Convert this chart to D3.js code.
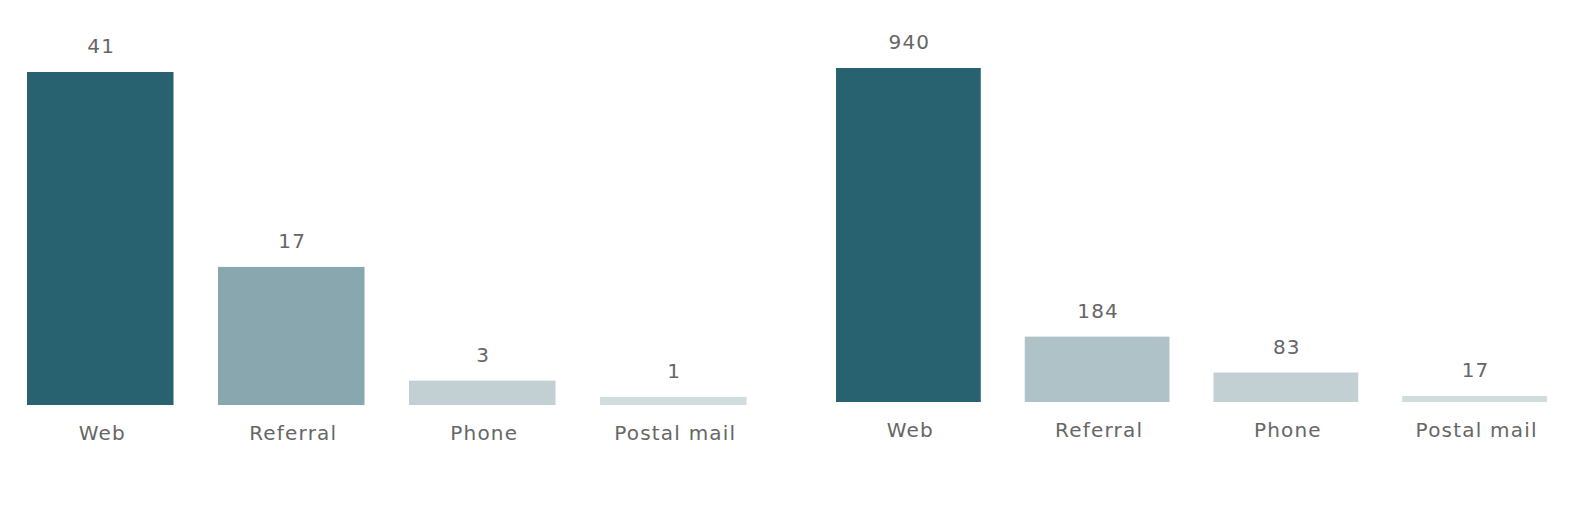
<!DOCTYPE html>
<html>
<head>
<meta charset="utf-8">
<script src="https://cdn.jsdelivr.net/npm/d3@7"></script>
<style>
  html, body { margin: 0; padding: 0; background: #fff; }
  svg text { font-family: "DejaVu Sans", sans-serif; fill: #666666; letter-spacing: 1.2px; }
</style>
</head>
<body>
<svg id="chart" width="1583" height="511"></svg>
<script>
const categories = ["Web", "Referral", "Phone", "Postal mail"];
const leftValues = [41, 17, 3, 1];
const rightValues = [940, 184, 83, 17];
const leftColors = ["#28616f", "#89a7ae", "#c2d0d4", "#d0dcde"];
const rightColors = ["#28616f", "#aec2c7", "#c2d0d4", "#d0dcde"];

const svg = d3.select("#chart");

function panel(values, colors, x0, x1, yBottom, yTop, labelY) {
  const x = d3.scaleBand().domain(categories).range([x0, x1]).paddingInner(0.233).paddingOuter(0);
  const y = d3.scaleLinear().domain([0, d3.max(values)]).range([yBottom, yTop]);
  const data = categories.map((c, i) => ({ c, v: values[i], col: colors[i] }));
  const g = svg.append("g");
  g.selectAll("rect").data(data).join("rect")
    .attr("x", d => x(d.c))
    .attr("y", d => y(d.v))
    .attr("width", x.bandwidth())
    .attr("height", d => y(0) - y(d.v))
    .attr("fill", d => d.col);
  g.selectAll("text.val").data(data).join("text")
    .attr("class", "val")
    .attr("x", d => x(d.c) + x.bandwidth() / 2 + 1)
    .attr("y", d => y(d.v) - 26)
    .attr("dy", "0.35em")
    .attr("text-anchor", "middle")
    .style("font-size", "20px")
    .text(d => d.v);
  const axis = d3.axisBottom(x).tickSize(0).tickPadding(0);
  const ax = g.append("g").attr("transform", `translate(2,${labelY})`).call(axis);
  ax.select(".domain").remove();
  ax.selectAll("text")
    .attr("dy", "0.35em")
    .style("font-size", "20px");
  ax.attr("font-family", null).attr("font-size", null);
}

panel(leftValues, leftColors, 27, 746.5, 405, 72, 433);
panel(rightValues, rightColors, 836, 1547, 402, 68, 430);
</script>
</body>
</html>
